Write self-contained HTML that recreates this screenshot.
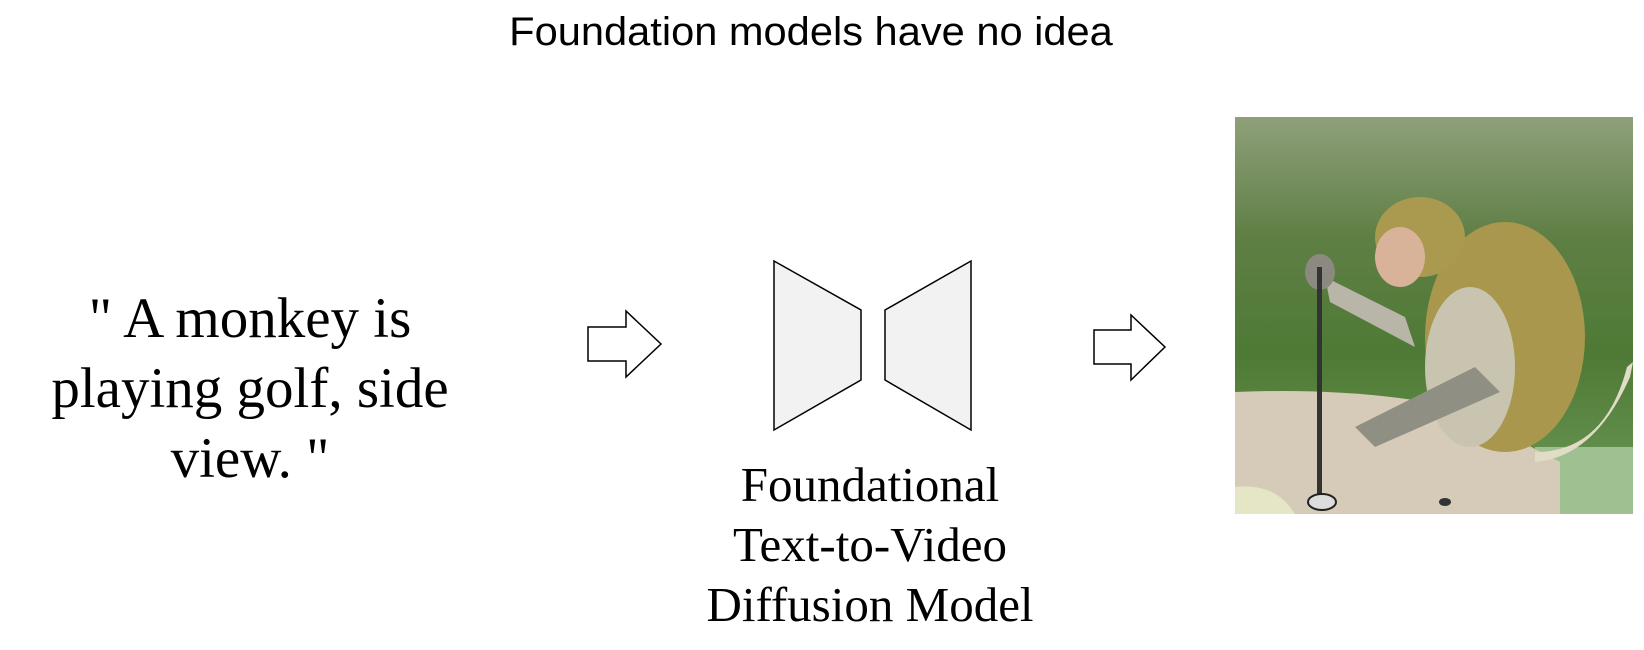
<!DOCTYPE html>
<html><head><style>
html,body{margin:0;padding:0;background:#fff;}
body{width:1644px;height:650px;position:relative;overflow:hidden;}
.t{position:absolute;white-space:nowrap;color:#000;}
</style></head><body>
<div class="t" style="left:0;width:1622px;text-align:center;top:10px;font-family:'Liberation Sans',sans-serif;font-size:40px;transform:scaleX(1.04);transform-origin:811px 0;">Foundation models have no idea</div>
<div class="t" style="left:0;width:500px;text-align:center;top:284px;font-family:'Liberation Serif',serif;font-size:57px;line-height:70px;">" A monkey is<br>playing golf, side<br>view. "</div>
<div class="t" style="left:620px;width:500px;text-align:center;top:455px;font-family:'Liberation Serif',serif;font-size:49px;line-height:60px;">Foundational<br>Text-to-Video<br>Diffusion Model</div>
<svg width="1644" height="650" style="position:absolute;left:0;top:0">
<g fill="#fff" stroke="#000" stroke-width="1.5">
<polygon points="588,327 626,327 626,311 661,344 626,377 626,361 588,361"/>
<polygon points="1094,330 1131,330 1131,315 1165,347 1131,380 1131,364 1094,364"/>
</g>
<g fill="#f2f2f2" stroke="#000" stroke-width="1.5">
<polygon points="774,261 861,310 861,380 774,430"/>
<polygon points="971,261 885,310 885,380 971,430"/>
</g>
<g transform="translate(1235,117)">
<defs>
<linearGradient id="bg" x1="0" y1="0" x2="0" y2="1">
<stop offset="0" stop-color="#8fa07a"/><stop offset="0.3" stop-color="#5f7f45"/><stop offset="0.6" stop-color="#4e7a35"/><stop offset="1" stop-color="#6f9a5a"/>
</linearGradient>
<clipPath id="c"><rect width="398" height="397"/></clipPath>
</defs>
<g clip-path="url(#c)">
<rect width="398" height="397" fill="url(#bg)"/>
<rect x="300" y="330" width="98" height="67" fill="#9fc090"/>
<path d="M0,275 Q120,270 220,290 L325,345 L325,397 L0,397Z" fill="#d6cbb8"/>
<path d="M0,370 Q40,365 60,397 L0,397Z" fill="#e4e6c6"/>
<path d="M300,345 Q360,340 395,260 L398,245 L392,250 Q370,335 300,335Z" fill="#e0dcc6"/>
<ellipse cx="270" cy="220" rx="80" ry="115" fill="#a8974c"/>
<ellipse cx="235" cy="250" rx="45" ry="80" fill="#c9c4b0"/>
<ellipse cx="185" cy="120" rx="45" ry="40" fill="#a99a4f"/>
<ellipse cx="165" cy="140" rx="25" ry="30" fill="#d9b29a"/>
<path d="M90,160 L170,200 L180,230 L95,185Z" fill="#b9b5a8"/>
<path d="M120,310 L240,250 L265,275 L140,330Z" fill="#8f8f84"/>
<ellipse cx="85" cy="155" rx="15" ry="18" fill="#8c8a80"/>
<rect x="82" y="150" width="5" height="230" fill="#333"/>
<ellipse cx="87" cy="385" rx="14" ry="8" fill="#ddd" stroke="#222" stroke-width="2"/>
<ellipse cx="210" cy="385" rx="6" ry="4" fill="#333"/>
</g>
</g>
</svg>
</body></html>
